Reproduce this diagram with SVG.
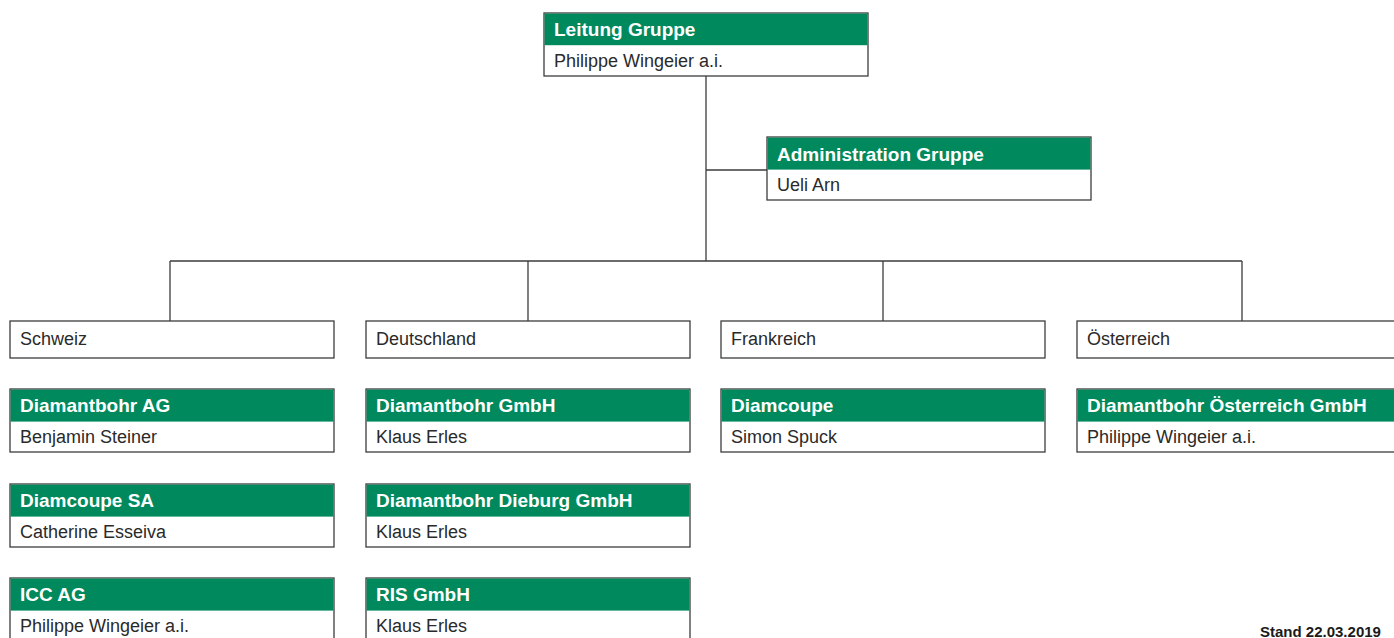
<svg xmlns="http://www.w3.org/2000/svg" width="1394" height="638" viewBox="0 0 1394 638">
<style>
.box{fill:#fff;stroke:#3c3c3c;stroke-width:1.3}
.hd{fill:#00895d}
.t{font-family:"Liberation Sans",Arial,sans-serif;font-size:18px;fill:#2a2a2a}
.h{font-family:"Liberation Sans",Arial,sans-serif;font-size:19px;font-weight:bold;fill:#fff}
.ln{stroke:#3c3c3c;stroke-width:1.3;fill:none}
.st{font-family:"Liberation Sans",Arial,sans-serif;font-size:15px;font-weight:bold;fill:#1a1a1a}
</style>
<rect width="1394" height="638" fill="#fff"/>
<g id="connectors">
<path class="ln" d="M706 76V261M706 170H767M170 261H1242M170 261V321M528 261V321M883 261V321M1242 261V321"/>
</g>
<g id="leitung">
<rect class="box" x="544" y="13" width="324" height="63"/>
<rect class="hd" x="544.6" y="13.6" width="322.8" height="31.6"/>
<text class="h" x="554" y="36">Leitung Gruppe</text>
<text class="t" x="554" y="67">Philippe Wingeier a.i.</text>
</g>
<g id="admin">
<rect class="box" x="767" y="137" width="324" height="63"/>
<rect class="hd" x="767.6" y="137.6" width="322.8" height="32"/>
<text class="h" x="777" y="161">Administration Gruppe</text>
<text class="t" x="777" y="191">Ueli Arn</text>
</g>
<g id="schweiz">
<rect class="box" x="10" y="321" width="324" height="37"/>
<text class="t" x="20" y="345">Schweiz</text>
</g>
<g id="deutschland">
<rect class="box" x="366" y="321" width="324" height="37"/>
<text class="t" x="376" y="345">Deutschland</text>
</g>
<g id="frankreich">
<rect class="box" x="721" y="321" width="324" height="37"/>
<text class="t" x="731" y="345">Frankreich</text>
</g>
<g id="oesterreich">
<rect class="box" x="1077" y="321" width="324" height="37"/>
<text class="t" x="1087" y="345">Österreich</text>
</g>
<g id="diamantbohr-ag">
<rect class="box" x="10" y="389" width="324" height="63"/>
<rect class="hd" x="10.6" y="389.6" width="322.8" height="32"/>
<text class="h" x="20" y="412">Diamantbohr AG</text>
<text class="t" x="20" y="443">Benjamin Steiner</text>
</g>
<g id="diamcoupe-sa">
<rect class="box" x="10" y="484" width="324" height="63"/>
<rect class="hd" x="10.6" y="484.6" width="322.8" height="32"/>
<text class="h" x="20" y="507">Diamcoupe SA</text>
<text class="t" x="20" y="538">Catherine Esseiva</text>
</g>
<g id="icc-ag">
<rect class="box" x="10" y="578" width="324" height="63"/>
<rect class="hd" x="10.6" y="578.6" width="322.8" height="32"/>
<text class="h" x="20" y="601">ICC AG</text>
<text class="t" x="20" y="632">Philippe Wingeier a.i.</text>
</g>
<g id="diamantbohr-gmbh">
<rect class="box" x="366" y="389" width="324" height="63"/>
<rect class="hd" x="366.6" y="389.6" width="322.8" height="32"/>
<text class="h" x="376" y="412">Diamantbohr GmbH</text>
<text class="t" x="376" y="443">Klaus Erles</text>
</g>
<g id="diamantbohr-dieburg">
<rect class="box" x="366" y="484" width="324" height="63"/>
<rect class="hd" x="366.6" y="484.6" width="322.8" height="32"/>
<text class="h" x="376" y="507">Diamantbohr Dieburg GmbH</text>
<text class="t" x="376" y="538">Klaus Erles</text>
</g>
<g id="ris-gmbh">
<rect class="box" x="366" y="578" width="324" height="63"/>
<rect class="hd" x="366.6" y="578.6" width="322.8" height="32"/>
<text class="h" x="376" y="601">RIS GmbH</text>
<text class="t" x="376" y="632">Klaus Erles</text>
</g>
<g id="diamcoupe">
<rect class="box" x="721" y="389" width="324" height="63"/>
<rect class="hd" x="721.6" y="389.6" width="322.8" height="32"/>
<text class="h" x="731" y="412">Diamcoupe</text>
<text class="t" x="731" y="443">Simon Spuck</text>
</g>
<g id="diamantbohr-oesterreich">
<rect class="box" x="1077" y="389" width="324" height="63"/>
<rect class="hd" x="1077.6" y="389.6" width="322.8" height="32"/>
<text class="h" x="1087" y="412">Diamantbohr Österreich GmbH</text>
<text class="t" x="1087" y="443">Philippe Wingeier a.i.</text>
</g>
<text class="st" x="1260" y="637">Stand 22.03.2019</text>
</svg>
